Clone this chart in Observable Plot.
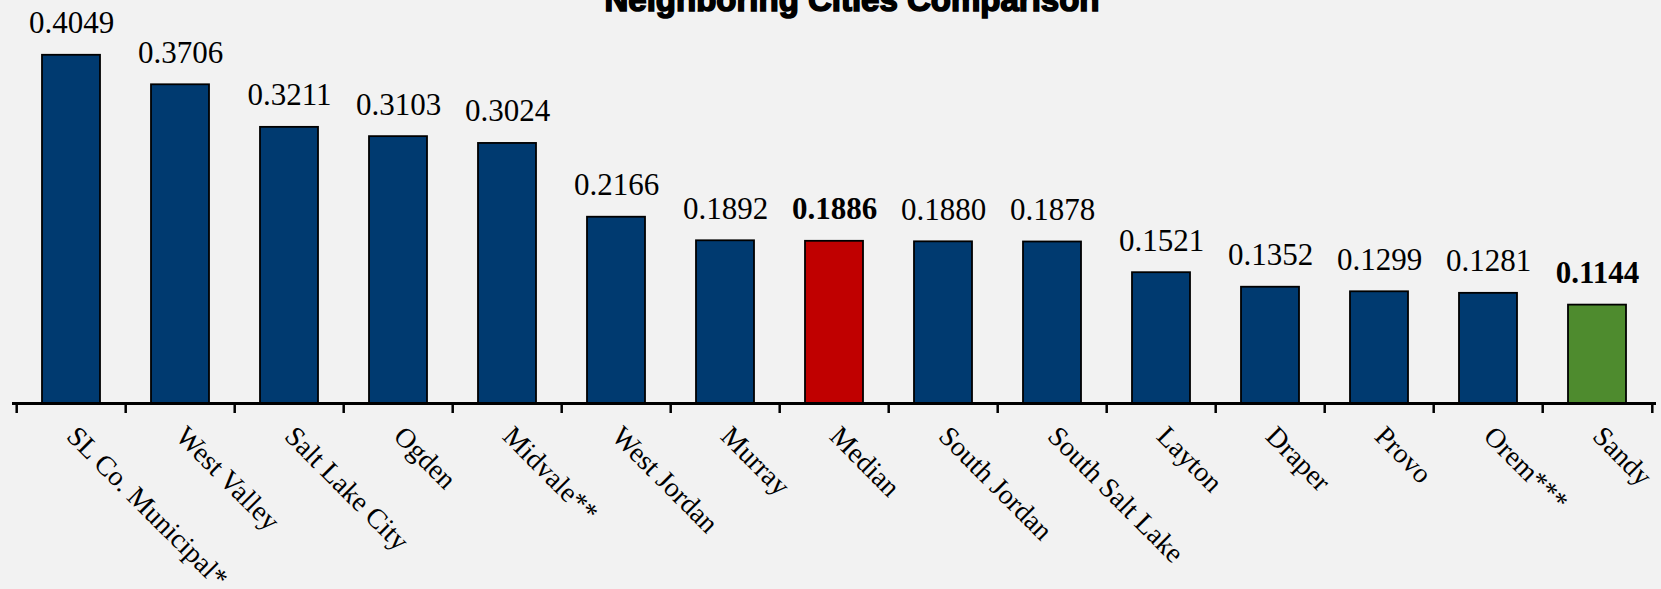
<!DOCTYPE html>
<html>
<head>
<meta charset="utf-8">
<script src="https://cdn.jsdelivr.net/npm/d3@7"></script>
<script src="https://cdn.jsdelivr.net/npm/@observablehq/plot@0.6"></script>
<style>
  html, body { margin: 0; padding: 0; background: #f2f2f2; overflow: hidden; }
  #wrap { position: relative; width: 1661px; height: 589px; overflow: hidden; }
  #title { position: absolute; left: 852px; top: -17px; transform: translateX(-50%); white-space: nowrap;
           font-family: "Liberation Sans Narrow", "Liberation Sans", sans-serif; font-weight: bold;
           font-size: 33px; line-height: 33px; color: #000; -webkit-text-stroke: 1.6px #000; }
</style>
</head>
<body>
<div id="wrap">
  <div id="title">Neighboring Cities Comparison</div>
  <div id="chart"></div>
</div>
<script>
const categories = ["SL Co. Municipal*", "West Valley", "Salt Lake City", "Ogden", "Midvale**", "West Jordan", "Murray", "Median", "South Jordan", "South Salt Lake", "Layton", "Draper", "Provo", "Orem***", "Sandy"];
const values = [0.4049, 0.3706, 0.3211, 0.3103, 0.3024, 0.2166, 0.1892, 0.1886, 0.1880, 0.1878, 0.1521, 0.1352, 0.1299, 0.1281, 0.1144];
const kinds = ["city", "city", "city", "city", "city", "city", "city", "median", "city", "city", "city", "city", "city", "city", "highlight"];

const data = categories.map((name, i) => ({name, value: values[i], kind: kinds[i]}));

const W = 1661, H = 589, mL = 12, mR = 5;
const step = (W - mL - mR) / categories.length;

const chart = Plot.plot({
  width: W, height: H,
  marginTop: 16, marginBottom: 186, marginLeft: mL, marginRight: mR,
  style: {background: "#f2f2f2", fontFamily: "Liberation Serif, serif", color: "#000", overflow: "visible"},
  x: {domain: categories, paddingInner: 0.47, paddingOuter: 0.235, axis: null},
  y: {domain: [0, 0.45], axis: null},
  color: {domain: ["city", "median", "highlight"], range: ["#003a70", "#c00000", "#4e8b2e"]},
  marks: [
    Plot.barY(data, {x: "name", y: "value", fill: "kind", stroke: "#000", strokeWidth: 1.8}),
    Plot.text(data.filter(d => d.kind === "city"), {x: "name", y: "value", text: d => d.value.toFixed(4), dy: -22, lineAnchor: "bottom", fontSize: 31, fill: "#000"}),
    Plot.text(data.filter(d => d.kind !== "city"), {x: "name", y: "value", text: d => d.value.toFixed(4), dy: -22, lineAnchor: "bottom", fontSize: 31, fontWeight: "bold", fill: "#000"}),
    Plot.ruleY([0], {stroke: "#000", strokeWidth: 3}),
    Plot.axisX(categories, {tickSize: 10, tickFormat: () => "", dx: -step / 2, strokeWidth: 2.5, label: null}),
    Plot.axisX([categories[categories.length - 1]], {tickSize: 10, tickFormat: () => "", dx: step / 2, strokeWidth: 2.5, label: null}),
    Plot.axisX(categories, {tickSize: 0, tickPadding: 28, tickRotate: 45, fontSize: 28, label: null, fill: "#000"})
  ]
});
document.getElementById("chart").appendChild(chart);
</script>
</body>
</html>
